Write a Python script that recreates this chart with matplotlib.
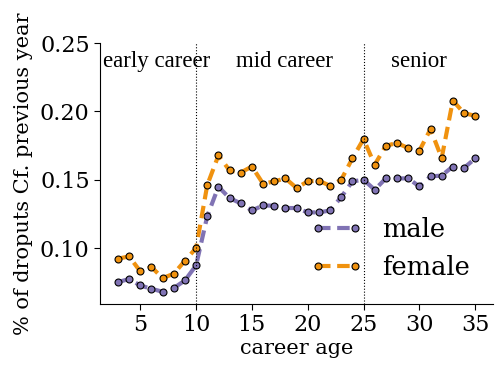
import matplotlib
matplotlib.use('Agg')
import matplotlib.pyplot as plt

# career age on x, share of droputs compared with previous year on y
ages = list(range(3, 36))
male = [0.0751, 0.0773, 0.0726, 0.0702, 0.0680, 0.0707, 0.0763, 0.0873,
        0.1234, 0.1449, 0.1366, 0.1327, 0.1275, 0.1312, 0.1310, 0.1293,
        0.1293, 0.1261, 0.1261, 0.1275, 0.1373, 0.1488, 0.1500, 0.1427,
        0.1510, 0.1510, 0.1510, 0.1451, 0.1524, 0.1531, 0.1597, 0.1586,
        0.1656]
female = [0.0922, 0.0939, 0.0829, 0.0861, 0.0780, 0.0812, 0.0907, 0.1000,
          0.1461, 0.1678, 0.1568, 0.1553, 0.1597, 0.1471, 0.1488, 0.1510,
          0.1440, 0.1488, 0.1493, 0.1456, 0.1500, 0.1656, 0.1798, 0.1610,
          0.1749, 0.1769, 0.1732, 0.1712, 0.1871, 0.1659, 0.2080, 0.1988,
          0.1968]
phase_breaks = [10, 25]
phase_names = ['early career', 'mid career', 'senior']
phase_pos = [6.5, 17.9, 30.0]

fig = plt.figure(figsize=(4.98, 3.69), dpi=100)
ax = fig.add_axes([0.201, 0.176, 0.789, 0.707])

style = dict(ls='--', lw=3, marker='o', ms=5, mec='black', mew=0.8,
             dashes=(3, 1.6))
ax.plot(ages, male, color='#8073b4', label='male', **style)
ax.plot(ages, female, color='#f0920f', label='female', **style)

for b in phase_breaks:
    ax.axvline(b, color='black', ls=':', lw=0.8)
for name, pos in zip(phase_names, phase_pos):
    ax.text(pos, 0.2365, name, ha='center', va='center',
            family='Liberation Serif', fontsize=16.5)

ax.set_xlim(1.4, 36.6)
ax.set_ylim(0.059, 0.25)
ax.set_xticks([5, 10, 15, 20, 25, 30, 35])
ax.set_yticks([0.10, 0.15, 0.20, 0.25])
ax.spines['top'].set_visible(False)
ax.spines['right'].set_visible(False)
ax.tick_params(labelsize=16, direction='out', length=4)
for lab in ax.get_xticklabels() + ax.get_yticklabels():
    lab.set_family('DejaVu Serif')
ax.set_xlabel('career age', family='DejaVu Serif', fontsize=15, labelpad=2)
ax.set_ylabel('% of droputs Cf. previous year', family='DejaVu Serif',
              fontsize=15, labelpad=5)

ax.legend(loc='lower right', frameon=False, numpoints=2, handlelength=2.05,
          handletextpad=0.75, labelspacing=0.5, borderaxespad=0,
          prop={'family': 'DejaVu Serif', 'size': 18.5},
          bbox_to_anchor=(0.967, 0.054))

fig.savefig('out.png', dpi=100)
